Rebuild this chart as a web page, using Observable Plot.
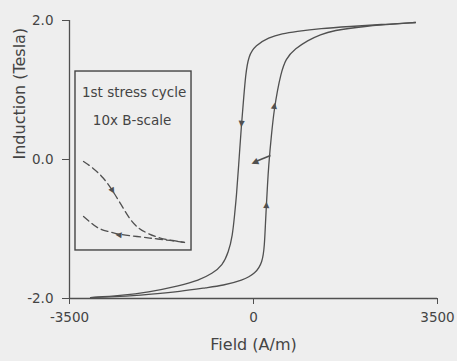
<!DOCTYPE html>
<html>
<head>
<meta charset="utf-8">
<script src="https://cdn.jsdelivr.net/npm/d3@7"></script>
<script src="https://cdn.jsdelivr.net/npm/@observablehq/plot@0.6"></script>
<style>
  html, body { margin: 0; padding: 0; background: #eeeeee; }
  #chart svg { display: block; background: #eeeeee; }
</style>
</head>
<body>
<div id="chart"></div>
<script>
// Main hysteresis loop: descending branch (top right -> bottom left)
const descH = [3081, 2416, 1845, 1274, 799, 552, 285, 38, -95, -152, -190, -228, -285, -323, -361, -399, -476, -590, -780, -1046, -1388, -2016, -2530, -3100];
const descB = [1.971, 1.942, 1.914, 1.885, 1.842, 1.813, 1.755, 1.640, 1.496, 1.209, 0.849, 0.518, -0.115, -0.518, -0.806, -1.094, -1.338, -1.525, -1.640, -1.741, -1.813, -1.914, -1.957, -1.986];
// ascending branch (bottom left -> top right)
const ascH = [-3100, -2530, -2016, -1388, -875, -590, -209, 38, 171, 209, 228, 247, 266, 285, 342, 399, 456, 514, 609, 799, 1027, 1274, 1522, 2035, 3081];
const ascB = [-1.986, -1.971, -1.942, -1.899, -1.842, -1.813, -1.741, -1.640, -1.482, -1.237, -0.906, -0.633, -0.374, -0.115, 0.374, 0.748, 0.993, 1.209, 1.453, 1.597, 1.712, 1.799, 1.856, 1.914, 1.971];
// Inset (1st stress cycle, drawn in main-plot coordinates)
const inset1H = [-3233, -3062, -2853, -2682, -2530, -2340, -2187, -2016, -1769, -1541, -1312];
const inset1B = [-0.029, -0.115, -0.259, -0.446, -0.633, -0.878, -0.993, -1.065, -1.137, -1.165, -1.194];
const inset2H = [-3233, -3100, -2967, -2758, -2568, -2206, -1902, -1579, -1312];
const inset2B = [-0.820, -0.906, -0.993, -1.036, -1.079, -1.108, -1.137, -1.165, -1.194];
const insetBox = [{x1: -3386, x2: -1179, y1: -1.309, y2: 1.266}];
const insetLabels = ["1st stress cycle", "10x B-scale"];
const insetLabelH = [-2270, -2310];
const insetLabelB = [0.964, 0.56];
// Direction arrowheads on curves
const arrowH = [-228, 399, 247, -2682, -2568];
const arrowB = [0.518, 0.777, -0.647, -0.446, -1.079];
const arrowGlyph = ["▼", "▲", "▲", "▼", "◀"];
const arrowAngle = [4, 8, 2, -30, 6];
// small side arrow near the origin
const sideArrow = [{h1: 323, b1: 0.058, h2: 20, b2: -0.035}];
const xTicks = [-3500, 0, 3500];
const yTicks = [-2, 0, 2];
const xLabel = "Field (A/m)";
const yLabel = "Induction (Tesla)";

const desc = descH.map((h, i) => ({H: h, B: descB[i]}));
const asc = ascH.map((h, i) => ({H: h, B: ascB[i]}));
const in1 = inset1H.map((h, i) => ({H: h, B: inset1B[i]}));
const in2 = inset2H.map((h, i) => ({H: h, B: inset2B[i]}));
const labels = insetLabels.map((t, i) => ({t, H: insetLabelH[i], B: insetLabelB[i]}));
const arrows = arrowH.map((h, i) => ({H: h, B: arrowB[i], g: arrowGlyph[i], a: arrowAngle[i]}));

const ink = "#505050";
const txt = "#444";
const font = "'DejaVu Sans', sans-serif";

const chart = Plot.plot({
  width: 457,
  height: 361,
  marginLeft: 69,
  marginRight: 20,
  marginTop: 20,
  marginBottom: 63,
  style: {fontFamily: font, background: "#eeeeee", color: txt},
  x: {domain: [-3500, 3500]},
  y: {domain: [-2, 2]},
  marks: [
    Plot.ruleX([-3500], {stroke: ink, strokeWidth: 1.3}),
    Plot.ruleY([-2], {stroke: ink, strokeWidth: 1.3}),
    Plot.axisX({ticks: xTicks, tickFormat: d => String(d), tickSize: 6, tickPadding: 8, label: null, fontSize: 13.5, stroke: ink, fill: txt}),
    Plot.axisY({ticks: yTicks, tickFormat: d => d.toFixed(1), tickSize: 7, tickPadding: 9, label: null, fontSize: 13.5, stroke: ink, fill: txt}),
    Plot.text([xLabel], {frameAnchor: "bottom", dy: 51, text: d => d, fontSize: 16, fill: txt, style: {letterSpacing: "0.9px"}}),
    Plot.text([yLabel], {frameAnchor: "left", dx: -50, rotate: -90, text: d => d, fontSize: 16, fill: txt, style: {letterSpacing: "0.6px"}}),
    Plot.rect(insetBox, {x1: "x1", x2: "x2", y1: "y1", y2: "y2", fill: "none", stroke: "#444", strokeWidth: 1.4}),
    Plot.text(labels, {x: "H", y: "B", text: "t", fontSize: 13.5, fill: txt, style: {letterSpacing: "0.3px"}}),
    Plot.line(desc, {x: "H", y: "B", stroke: ink, strokeWidth: 1.3, curve: "basis"}),
    Plot.line(asc, {x: "H", y: "B", stroke: ink, strokeWidth: 1.3, curve: "basis"}),
    Plot.line(in1, {x: "H", y: "B", stroke: ink, strokeWidth: 1.3, strokeDasharray: "7,4", curve: "basis"}),
    Plot.line(in2, {x: "H", y: "B", stroke: ink, strokeWidth: 1.3, strokeDasharray: "7,4", curve: "basis"}),
    Plot.link(sideArrow, {x1: "h1", y1: "b1", x2: "h2", y2: "b2", stroke: ink, strokeWidth: 1.6}),
    Plot.text(sideArrow, {x: "h2", y: "b2", text: () => "◀", rotate: -24, fontSize: 9, fill: ink}),
    Plot.text(arrows, {x: "H", y: "B", text: "g", rotate: "a", fontSize: 8, fill: ink})
  ]
});
document.getElementById("chart").append(chart);
</script>
</body>
</html>
